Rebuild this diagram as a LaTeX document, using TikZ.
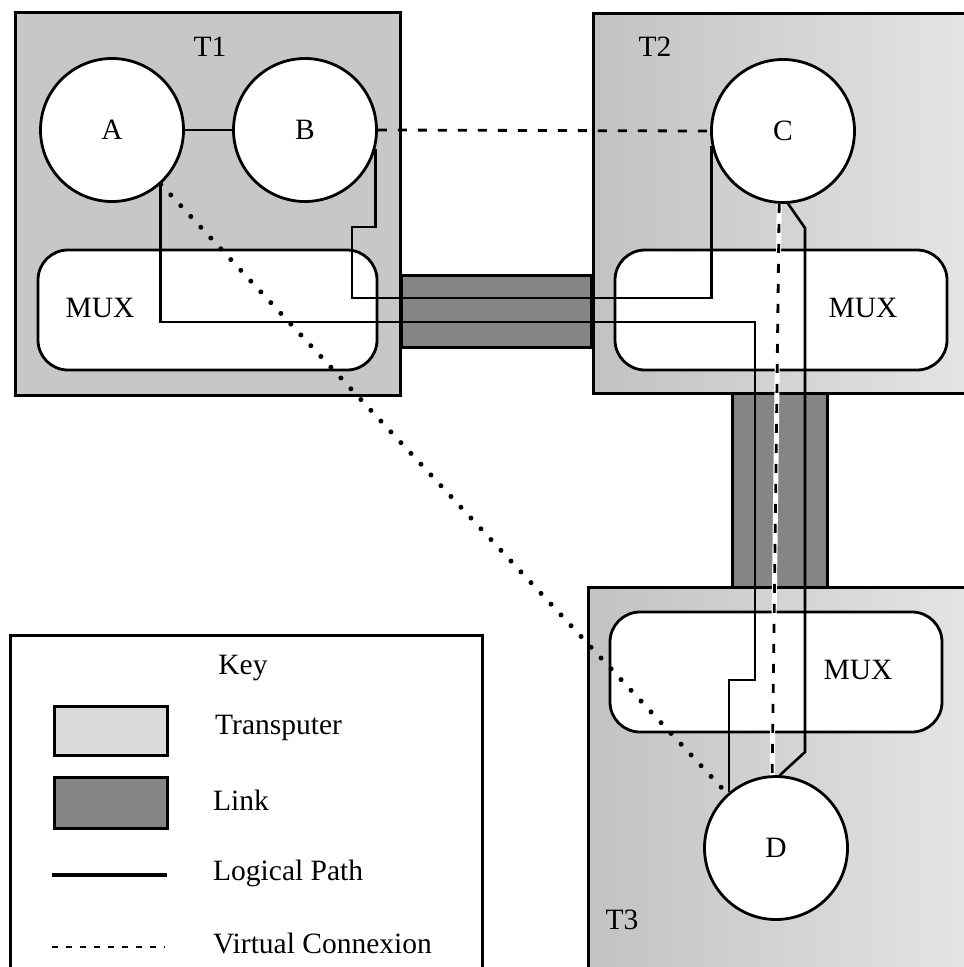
\documentclass[tikz,border=0pt]{standalone}
\usepackage{fontspec}
\setmainfont{Liberation Serif}
\begin{document}
\begin{tikzpicture}[x=1pt,y=-1pt,
  every node/.style={font=\fontsize{29.5}{34}\selectfont},
  tbox/.style={draw=black,line width=3pt,fill=black!22},
  tboxfade/.style={draw=black,line width=3pt,left color=black!24,right color=black!10,shading angle=90},
  linkbox/.style={draw=black,line width=3pt,fill=black!48},
  mux/.style={draw=black,line width=2.8pt,fill=white,rounded corners=30pt,rectangle,inner sep=0pt},
  proc/.style={draw=black,line width=2.8pt,fill=white,circle,inner sep=0pt,minimum size=143pt},
  lpath/.style={draw=black,line width=2.6pt},
  vconn/.style={draw=black,line width=2.8pt,dash pattern=on 9pt off 11pt},
  halo/.style={draw=white,line width=5pt},
  dotty/.style={draw=black,line width=5pt,line cap=round,dash pattern=on 0pt off 14.7pt},
  lbl/.style={inner sep=0pt,anchor=west}
]
\useasboundingbox (0,0) rectangle (964,967);
\clip (0,0) rectangle (964,967);
\fill[white] (0,0) rectangle (964,967);

% transputers
\path[tbox] (15,12) rectangle (400,395);
\path[tboxfade] (593,13) rectangle (980,393);
\path[tboxfade] (588,587) rectangle (980,990);

% links
\path[linkbox] (401,275) rectangle (591,347);
\path[linkbox] (732,393) rectangle (827,587);

% muxes
\node[mux,minimum width=339pt,minimum height=120pt] (M1) at (207.5,310) {};
\node[mux,minimum width=332pt,minimum height=120pt] (M2) at (781,310) {};
\node[mux,minimum width=332pt,minimum height=120pt] (M3) at (776,672) {};
\node[inner sep=0pt] (M1l) at (100,308) {MUX};
\node[inner sep=0pt] (M2l) at (863,308) {MUX};
\node[inner sep=0pt] (M3l) at (858,670) {MUX};

% labels
\node[inner sep=0pt] (T1) at (210,47) {T1};
\node[inner sep=0pt] (T2) at (655,47) {T2};
\node[inner sep=0pt] (T3) at (622,920) {T3};

% processes
\node[proc] (A) at (112,130) {A};
\node[proc] (B) at (305,130) {B};
\node[proc] (C) at (783,131) {C};
\node[proc] (D) at (776,848) {D};

% logical paths
\draw[lpath] (A) -- (B);
\draw[lpath] (A.-48) |- (755,322) -- (755,680) -| (D.130);
\draw[lpath] (B.-15) |- (352,227) -- (352,298) -| (C.192);
\draw[lpath] (C.-86) -- (805,228) -- (805,752) -- (D.87);

% virtual connexions
\draw[halo] (C.-93) -- (D.93);
\draw[vconn] (C.-93) -- (D.93);
\draw[vconn] (B.0) -- (C.180);
\draw[dotty] (A.-48) -- (D.132);

% key
\draw[line width=3pt] (10,990) -- (10,635) -- (482,635) -- (482,990);
\node[inner sep=0pt] (key) at (243,668) {Key};
\node[draw=black,line width=3pt,fill=black!14,minimum width=113pt,minimum height=49pt,inner sep=0pt] (kT) at (110.5,730.5) {};
\node[draw=black,line width=3pt,fill=black!48,minimum width=113pt,minimum height=51pt,inner sep=0pt] (kL) at (110.5,802.5) {};
\coordinate (kp1) at (52,875);
\coordinate (kp2) at (167,875);
\coordinate (kv1) at (52,947);
\coordinate (kv2) at (165,947);
\draw[lpath,line width=3.5pt] (kp1) -- (kp2);
\draw[vconn,dash pattern=on 6pt off 8pt] (kv1) -- (kv2);
\node[lbl] (kTl) at (215,728) {Transputer};
\node[lbl] (kLl) at (213,800) {Link};
\node[lbl] (kPl) at (213,873) {Logical Path};
\node[lbl] (kVl) at (213,943) {Virtual Connexion};
\end{tikzpicture}
\end{document}
